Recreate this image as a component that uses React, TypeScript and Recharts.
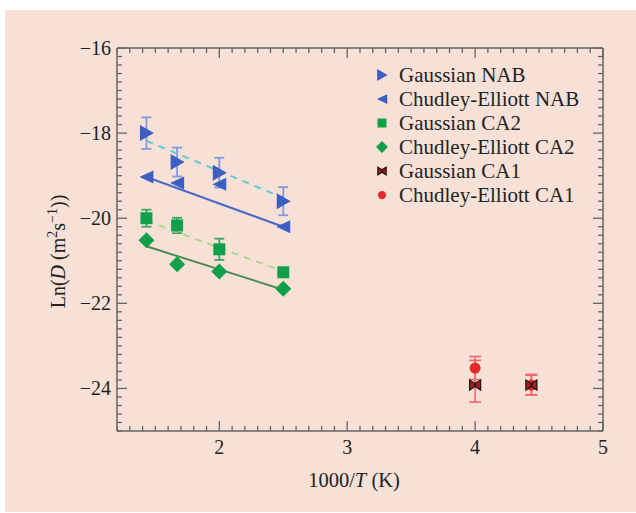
import React from 'react';
import { ScatterChart, Scatter, XAxis, YAxis, ErrorBar, Legend, Label } from 'recharts';

// x positions (1000/T)
const nabX = [1.43, 1.67, 2.0, 2.5];
const ca1X = [4.0, 4.44];
const fitX = [1.43, 2.5];

// Ln(D) values
const gaussNAB = [-18.0, -18.68, -18.93, -19.6];
const gaussNABErr = [0.37, 0.34, 0.35, 0.33];
const ceNAB = [-19.03, -19.17, -19.2, -20.2];
const gaussCA2 = [-20.0, -20.17, -20.73, -21.27];
const gaussCA2Err = [0.2, 0.18, 0.25, 0.08];
const ceCA2 = [-20.52, -21.08, -21.25, -21.66];
const gaussCA1 = [-23.92, -23.92];
const gaussCA1Err = [[0.4, 0.58], [0.23, 0.25]];
const ceCA1 = [-23.52, -23.92];
const ceCA1Err = [0.27, 0.23];

// fitted lines (end points)
const gaussNABFit = [-18.18, -19.52];
const ceNABFit = [-19.03, -20.2];
const gaussCA2Fit = [-20.06, -21.25];
const ceCA2Fit = [-20.66, -21.68];

const xMajor = [2, 3, 4, 5];
const yMajor = [-16, -18, -20, -22, -24];

const xTicks: number[] = [];
for (let i = 12; i <= 50; i++) xTicks.push(i / 10);
const yTicks: number[] = [];
for (let i = -125; i <= -80; i++) yTicks.push(Math.round(i * 2) / 10);

const FONT = '"Liberation Serif", "Times New Roman", serif';
const AXIS = '#666';
const BLUE = '#3d5fc4';
const GREEN = '#11a04a';
const RED = '#e52a2a';

const pts = (xs: number[], ys: number[], errs?: any[]) =>
  xs.map((x, i) => ({ x, y: ys[i], err: errs ? errs[i] : 0 }));

const isMajor = (v: number, list: number[]) => list.some((m) => Math.abs(m - v) < 1e-6);
const fmt = (v: number) => (v < 0 ? `\u2212${Math.abs(v)}` : `${v}`);

const BottomTick = ({ x, y, payload }: any) => {
  const major = isMajor(payload.value, xMajor);
  return (
    <g>
      <line x1={x} x2={x} y1={y} y2={y - (major ? 10 : 5)} stroke={AXIS} strokeWidth={1.3} />
      {major && (
        <text x={x} y={y + 23} textAnchor="middle" fontSize={20} fontFamily={FONT} fill="#222">
          {fmt(payload.value)}
        </text>
      )}
    </g>
  );
};
const TopTick = ({ x, y, payload }: any) => {
  const major = isMajor(payload.value, xMajor);
  return <line x1={x} x2={x} y1={y} y2={y + (major ? 10 : 5)} stroke={AXIS} strokeWidth={1.3} />;
};
const LeftTick = ({ x, y, payload }: any) => {
  const major = isMajor(payload.value, yMajor);
  return (
    <g>
      <line x1={x} x2={x + (major ? 10 : 5)} y1={y} y2={y} stroke={AXIS} strokeWidth={1.3} />
      {major && (
        <text x={x - 6} y={y + 7} textAnchor="end" fontSize={20} fontFamily={FONT} fill="#222">
          {fmt(payload.value)}
        </text>
      )}
    </g>
  );
};
const RightTick = ({ x, y, payload }: any) => {
  const major = isMajor(payload.value, yMajor);
  return <line x1={x} x2={x - (major ? 10 : 5)} y1={y} y2={y} stroke={AXIS} strokeWidth={1.3} />;
};

// marker shapes
const RightTri = ({ cx, cy, s = 1, fill = BLUE }: any) => (
  <polygon points={`${cx - 6.5 * s},${cy - 8 * s} ${cx + 7.5 * s},${cy} ${cx - 6.5 * s},${cy + 8 * s}`} fill={fill} />
);
const LeftTri = ({ cx, cy, s = 1, fill = BLUE }: any) => (
  <polygon points={`${cx + 7 * s},${cy - 6.5 * s} ${cx - 7 * s},${cy} ${cx + 7 * s},${cy + 6.5 * s}`} fill={fill} />
);
const Square = ({ cx, cy, s = 1 }: any) => (
  <rect x={cx - 6 * s} y={cy - 6 * s} width={12 * s} height={12 * s} fill={GREEN} />
);
const Diamond = ({ cx, cy, s = 1 }: any) => (
  <polygon points={`${cx},${cy - 8 * s} ${cx + 8 * s},${cy} ${cx},${cy + 8 * s} ${cx - 8 * s},${cy}`} fill={GREEN} />
);
const Dot = ({ cx, cy, s = 1 }: any) => <circle cx={cx} cy={cy} r={5.5 * s} fill={RED} />;
const Bowtie = ({ cx, cy, s = 1 }: any) => (
  <g>
    <path
      d={`M${cx - 5.5 * s},${cy - 5 * s} L${cx},${cy - 1.5 * s} L${cx + 5.5 * s},${cy - 5 * s} L${cx + 5.5 * s},${cy + 5 * s} L${cx},${cy + 1.5 * s} L${cx - 5.5 * s},${cy + 5 * s} Z`}
      fill="#a51e1e"
      stroke="#2a1414"
      strokeWidth={1.3}
    />
    <circle cx={cx} cy={cy} r={1.2 * s} fill="#2a1414" />
  </g>
);
const NoShape = () => <g />;

const legendItems = [
  { name: 'Gaussian NAB', Shape: RightTri },
  { name: 'Chudley-Elliott NAB', Shape: LeftTri },
  { name: 'Gaussian CA2', Shape: Square },
  { name: 'Chudley-Elliott CA2', Shape: Diamond },
  { name: 'Gaussian CA1', Shape: Bowtie },
  { name: 'Chudley-Elliott CA1', Shape: Dot },
];

const renderLegend = () => (
  <div style={{ fontFamily: FONT, fontSize: 21, color: '#222', lineHeight: '24px' }}>
    {legendItems.map(({ name, Shape }) => (
      <div key={name} style={{ display: 'flex', alignItems: 'center', height: 24 }}>
        <svg width={22} height={20} style={{ marginRight: 6 }}>
          <Shape cx={11} cy={10} s={0.75} />
        </svg>
        <span>{name}</span>
      </div>
    ))}
  </div>
);

const YTitle = ({ viewBox }: any) => {
  const cx = viewBox.x - 51;
  const cy = viewBox.y + viewBox.height / 2 + 12;
  return (
    <text
      x={cx}
      y={cy}
      transform={`rotate(-90, ${cx}, ${cy})`}
      textAnchor="middle"
      fontSize={20}
      fontFamily={FONT}
      fill="#222"
    >
      Ln(<tspan fontStyle="italic">D</tspan> (m
      <tspan dy={-8} fontSize={14}>2</tspan>
      <tspan dy={8}>s</tspan>
      <tspan dy={-8} fontSize={14}>{'\u22121'}</tspan>
      <tspan dy={8}>))</tspan>
    </text>
  );
};

const XTitle = ({ viewBox }: any) => (
  <text
    x={viewBox.x + viewBox.width / 2 - 6}
    y={viewBox.y + 56}
    textAnchor="middle"
    fontSize={20.5}
    fontFamily={FONT}
    fill="#222"
  >
    1000/<tspan fontStyle="italic">T</tspan> (K)
  </text>
);

export default function App() {
  return (
    <div style={{ position: 'absolute', left: 0, top: 0, width: 636, height: 513, background: '#fff' }}>
      <div style={{ position: 'absolute', left: 5, top: 10, right: 0, bottom: 1, background: '#f7e1d7' }} />
      <div style={{ position: 'absolute', left: 0, top: 0 }}>
        <ScatterChart width={636} height={513} margin={{ top: 47, right: 32, bottom: 81, left: 116 }}>
          <XAxis
            dataKey="x"
            type="number"
            domain={[1.2, 5]}
            ticks={xTicks}
            interval={0}
            height={1}
            tickSize={0}
            tickMargin={0}
            tick={BottomTick}
            axisLine={{ stroke: AXIS, strokeWidth: 1.5 }}
            allowDataOverflow
          >
            <Label content={XTitle} />
          </XAxis>
          <XAxis
            xAxisId="top"
            orientation="top"
            dataKey="x"
            type="number"
            domain={[1.2, 5]}
            ticks={xTicks}
            interval={0}
            height={1}
            tickSize={0}
            tickMargin={0}
            tick={TopTick}
            axisLine={{ stroke: AXIS, strokeWidth: 1.5 }}
            allowDataOverflow
          />
          <YAxis
            dataKey="y"
            type="number"
            domain={[-25, -16]}
            ticks={yTicks}
            interval={0}
            width={1}
            tickSize={0}
            tickMargin={0}
            tick={LeftTick}
            axisLine={{ stroke: AXIS, strokeWidth: 1.5 }}
            allowDataOverflow
          >
            <Label content={YTitle} />
          </YAxis>
          <YAxis
            yAxisId="right"
            orientation="right"
            dataKey="y"
            type="number"
            domain={[-25, -16]}
            ticks={yTicks}
            interval={0}
            width={1}
            tickSize={0}
            tickMargin={0}
            tick={RightTick}
            axisLine={{ stroke: AXIS, strokeWidth: 1.5 }}
            allowDataOverflow
          />

          {/* fit lines */}
          <Scatter data={pts(fitX, gaussNABFit)} line={{ stroke: '#6ccad6', strokeWidth: 2, strokeDasharray: '7 6' }} shape={NoShape} legendType="none" isAnimationActive={false} />
          <Scatter data={pts(fitX, ceNABFit)} line={{ stroke: '#4a68c8', strokeWidth: 2 }} shape={NoShape} legendType="none" isAnimationActive={false} />
          <Scatter data={pts(fitX, gaussCA2Fit)} line={{ stroke: '#aed78e', strokeWidth: 2, strokeDasharray: '7 6' }} shape={NoShape} legendType="none" isAnimationActive={false} />
          <Scatter data={pts(fitX, ceCA2Fit)} line={{ stroke: '#4f8b55', strokeWidth: 2 }} shape={NoShape} legendType="none" isAnimationActive={false} />

          {/* NAB */}
          <Scatter data={pts(nabX, gaussNAB, gaussNABErr)} shape={RightTri} isAnimationActive={false}>
            <ErrorBar dataKey="err" direction="y" width={5} stroke="#7f9be0" strokeWidth={1.8} />
          </Scatter>
          <Scatter data={pts(nabX, ceNAB)} shape={LeftTri} isAnimationActive={false} />

          {/* CA2 */}
          <Scatter data={pts(nabX, gaussCA2, gaussCA2Err)} shape={Square} isAnimationActive={false}>
            <ErrorBar dataKey="err" direction="y" width={5} stroke="#3aa862" strokeWidth={1.8} />
          </Scatter>
          <Scatter data={pts(nabX, ceCA2)} shape={Diamond} isAnimationActive={false} />

          {/* CA1 */}
          <Scatter data={pts(ca1X, ceCA1, ceCA1Err)} shape={Dot} isAnimationActive={false}>
            <ErrorBar dataKey="err" direction="y" width={6} stroke="#f36464" strokeWidth={1.6} />
          </Scatter>
          <Scatter data={pts(ca1X, gaussCA1, gaussCA1Err)} shape={Bowtie} isAnimationActive={false}>
            <ErrorBar dataKey="err" direction="y" width={6} stroke="#f36464" strokeWidth={1.6} />
          </Scatter>

          <Legend
            content={renderLegend}
            layout="vertical"
            align="center"
            verticalAlign="middle"
            wrapperStyle={{ left: 371, top: 63, width: 250 }}
          />
        </ScatterChart>
      </div>
    </div>
  );
}
